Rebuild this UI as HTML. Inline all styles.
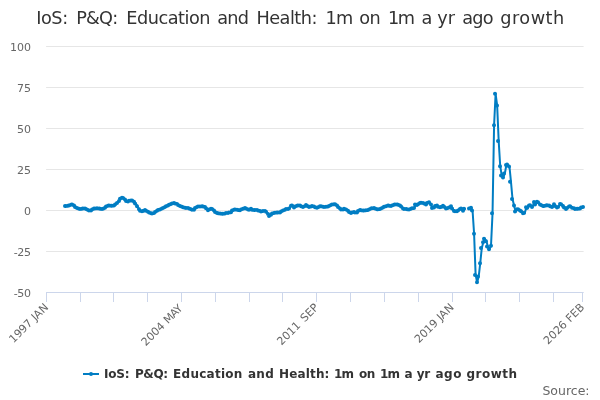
<!DOCTYPE html>
<html><head><meta charset="utf-8"><title>IoS: P&amp;Q: Education and Health: 1m on 1m a yr ago growth</title>
<style>
html,body{margin:0;padding:0;background:#fff;}
body{width:600px;height:400px;overflow:hidden;}
svg{display:block;font-family:"DejaVu Sans","Liberation Sans",sans-serif;}
</style></head><body>
<svg width="600" height="400" viewBox="0 0 600 400">
<rect width="600" height="400" fill="#fff"/>
<path d="M46.1 46.5H583.6M46.1 87.5H583.6M46.1 128.5H583.6M46.1 169.5H583.6M46.1 210.5H583.6M46.1 251.5H583.6" stroke="#e6e6e6" stroke-width="1" fill="none"/>
<path d="M46 292.5H583.7" stroke="#ccd6eb" stroke-width="1" fill="none"/>
<path d="M46.5 292V302M80.5 292V302M113.5 292V302M147.5 292V302M181.5 292V302M215.5 292V302M249.5 292V302M282.5 292V302M316.5 292V302M350.5 292V302M384.5 292V302M418.5 292V302M452.5 292V302M485.5 292V302M519.5 292V302M553.5 292V302M582.5 292V302" stroke="#ccd6eb" stroke-width="1" fill="none"/>
<g fill="none" stroke="#007dc3" stroke-width="2" stroke-linejoin="round" stroke-linecap="round">
<path d="M65.23 205.9 L66.76 206.1 L68.30 205.7 L69.84 205.4 L71.37 204.8 L72.91 204.6 L74.45 205.6 L75.98 207.0 L77.52 208.0 L79.06 208.7 L80.60 209.0 L82.13 208.8 L83.67 208.6 L85.21 208.6 L86.74 209.0 L88.28 210.0 L89.82 210.6 L91.36 210.4 L92.89 209.4 L94.43 208.6 L95.97 208.4 L97.50 208.2 L99.04 208.5 L100.58 208.8 L102.12 209.0 L103.65 208.8 L105.19 207.8 L106.73 206.4 L108.26 205.8 L109.80 205.5 L111.34 205.7 L112.88 205.8 L114.41 205.4 L115.95 204.4 L117.49 202.9 L119.02 201.0 L120.56 198.8 L122.10 197.7 L123.63 198.1 L125.17 199.5 L126.71 201.1 L128.25 201.5 L129.78 200.8 L131.32 200.5 L132.86 200.5 L134.39 201.7 L135.93 203.6 L137.47 206.2 L139.01 209.2 L140.54 210.7 L142.08 211.3 L143.62 211.0 L145.15 210.1 L146.69 210.8 L148.23 211.7 L149.77 212.6 L151.30 213.2 L152.84 213.5 L154.38 212.9 L155.91 212.0 L157.45 210.8 L158.99 210.0 L160.53 209.4 L162.06 208.6 L163.60 207.9 L165.14 207.1 L166.67 206.3 L168.21 205.6 L169.75 204.8 L171.29 204.0 L172.82 203.4 L174.36 203.1 L175.90 203.4 L177.43 204.1 L178.97 205.1 L180.51 206.1 L182.04 206.7 L183.58 207.3 L185.12 207.7 L186.66 208.0 L188.19 208.1 L189.73 208.4 L191.27 209.2 L192.80 209.7 L194.34 209.7 L195.88 208.0 L197.42 207.1 L198.95 206.5 L200.49 206.4 L202.03 206.3 L203.56 206.5 L205.10 207.0 L206.64 208.3 L208.18 210.3 L209.71 209.5 L211.25 208.8 L212.79 208.9 L214.32 210.5 L215.86 212.0 L217.40 213.0 L218.94 213.2 L220.47 213.5 L222.01 213.8 L223.55 213.8 L225.08 213.4 L226.62 213.1 L228.16 213.0 L229.69 212.6 L231.23 212.2 L232.77 210.6 L234.31 209.8 L235.84 209.6 L237.38 209.8 L238.92 210.1 L240.45 210.2 L241.99 209.4 L243.53 208.7 L245.07 208.1 L246.60 208.5 L248.14 209.4 L249.68 209.7 L251.21 208.7 L252.75 209.7 L254.29 209.9 L255.83 209.9 L257.36 210.0 L258.90 210.4 L260.44 211.0 L261.97 211.4 L263.51 211.1 L265.05 210.9 L266.59 211.8 L268.12 214.0 L269.66 216.0 L271.20 214.7 L272.73 213.4 L274.27 213.1 L275.81 212.8 L277.35 212.5 L278.88 212.5 L280.42 212.5 L281.96 211.4 L283.49 210.4 L285.03 209.7 L286.57 209.0 L288.10 209.0 L289.64 208.4 L291.18 205.8 L292.72 205.5 L294.25 207.4 L295.79 206.4 L297.33 205.8 L298.86 205.5 L300.40 205.5 L301.94 206.3 L303.48 206.9 L305.01 205.9 L306.55 205.1 L308.09 206.2 L309.62 206.9 L311.16 206.4 L312.70 206.1 L314.24 206.6 L315.77 207.2 L317.31 207.8 L318.85 207.3 L320.38 206.3 L321.92 206.3 L323.46 206.7 L325.00 206.9 L326.53 206.7 L328.07 206.5 L329.61 205.9 L331.14 205.1 L332.68 204.4 L334.22 204.2 L335.75 204.3 L337.29 205.6 L338.83 207.0 L340.37 208.5 L341.90 209.5 L343.44 209.6 L344.98 208.7 L346.51 209.4 L348.05 210.7 L349.59 211.9 L351.13 212.9 L352.66 212.4 L354.20 212.1 L355.74 212.6 L357.27 212.6 L358.81 211.0 L360.35 210.1 L361.89 210.3 L363.42 210.5 L364.96 210.5 L366.50 210.3 L368.03 210.1 L369.57 209.4 L371.11 208.6 L372.65 208.3 L374.18 208.1 L375.72 208.4 L377.26 209.2 L378.79 209.3 L380.33 209.1 L381.87 208.4 L383.40 207.5 L384.94 206.8 L386.48 206.2 L388.02 205.6 L389.55 205.7 L391.09 205.9 L392.63 205.6 L394.16 204.8 L395.70 204.5 L397.24 204.5 L398.78 204.7 L400.31 205.5 L401.85 206.6 L403.39 208.4 L404.92 209.0 L406.46 209.0 L408.00 209.3 L409.54 209.4 L411.07 208.8 L412.61 208.3 L414.15 208.0 L415.68 204.6 L417.22 204.9 L418.76 204.2 L420.30 203.0 L421.83 202.7 L423.37 202.9 L424.91 203.6 L426.44 204.4 L427.98 203.1 L429.52 202.3 L431.05 204.6 L432.59 207.9 L434.13 207.6 L435.67 205.9 L437.20 205.6 L438.74 206.7 L440.28 207.3 L441.81 206.9 L443.35 205.8 L444.89 206.7 L446.43 208.5 L447.96 208.3 L449.50 207.4 L451.04 206.2 L452.57 208.4 L454.11 211.0 L455.65 211.3 L457.19 211.3 L458.72 210.4 L460.26 209.1 L461.80 208.6 L463.33 210.7 L464.87 208.8"/>
<path d="M469.48 208.4 L471.02 207.8 L472.56 210.5 L474.09 233.8 L475.63 275.1 L477.17 282.3 L478.71 276.5 L480.24 263.2 L481.78 248.0 L483.32 242.3 L484.85 238.7 L486.39 241.2 L487.93 246.5 L489.46 249.2 L491.00 245.8 L492.54 213.3 L494.08 125.2 L495.61 93.8 L497.15 105.5 L498.69 141.0 L500.22 166.2 L501.76 175.5 L503.30 177.5 L504.84 173.5 L506.37 165.0 L507.91 164.5 L509.45 166.5 L510.98 181.8 L512.52 199.0 L514.06 205.5 L515.60 211.6 L517.13 209.3 L518.67 209.3 L520.21 210.5 L521.74 211.2 L523.28 213.3 L524.82 213.0 L526.36 207.3 L527.89 208.0 L529.43 205.5 L530.97 205.3 L532.50 207.0 L534.04 202.0 L535.58 204.5 L537.11 201.8 L538.65 202.2 L540.19 204.6 L541.73 205.0 L543.26 205.9 L544.80 206.0 L546.34 205.5 L547.87 205.2 L549.41 205.4 L550.95 206.3 L552.49 207.1 L554.02 204.3 L555.56 206.0 L557.10 207.4 L558.63 207.0 L560.17 204.1 L561.71 204.2 L563.25 206.0 L564.78 207.4 L566.32 208.9 L567.86 208.0 L569.39 206.6 L570.93 206.3 L572.47 207.7 L574.01 208.2 L575.54 208.9 L577.08 208.8 L578.62 208.7 L580.15 208.4 L581.69 207.6 L583.23 206.9"/>
</g>
<path d="M63 205.9a2 2 0 1 0 4 0a2 2 0 1 0-4 0zM64 206.1a2 2 0 1 0 4 0a2 2 0 1 0-4 0zM66 205.7a2 2 0 1 0 4 0a2 2 0 1 0-4 0zM67 205.4a2 2 0 1 0 4 0a2 2 0 1 0-4 0zM69 204.8a2 2 0 1 0 4 0a2 2 0 1 0-4 0zM70 204.6a2 2 0 1 0 4 0a2 2 0 1 0-4 0zM72 205.6a2 2 0 1 0 4 0a2 2 0 1 0-4 0zM73 207.0a2 2 0 1 0 4 0a2 2 0 1 0-4 0zM75 208.0a2 2 0 1 0 4 0a2 2 0 1 0-4 0zM77 208.7a2 2 0 1 0 4 0a2 2 0 1 0-4 0zM78 209.0a2 2 0 1 0 4 0a2 2 0 1 0-4 0zM80 208.8a2 2 0 1 0 4 0a2 2 0 1 0-4 0zM81 208.6a2 2 0 1 0 4 0a2 2 0 1 0-4 0zM83 208.6a2 2 0 1 0 4 0a2 2 0 1 0-4 0zM84 209.0a2 2 0 1 0 4 0a2 2 0 1 0-4 0zM86 210.0a2 2 0 1 0 4 0a2 2 0 1 0-4 0zM87 210.6a2 2 0 1 0 4 0a2 2 0 1 0-4 0zM89 210.4a2 2 0 1 0 4 0a2 2 0 1 0-4 0zM90 209.4a2 2 0 1 0 4 0a2 2 0 1 0-4 0zM92 208.6a2 2 0 1 0 4 0a2 2 0 1 0-4 0zM93 208.4a2 2 0 1 0 4 0a2 2 0 1 0-4 0zM95 208.2a2 2 0 1 0 4 0a2 2 0 1 0-4 0zM97 208.5a2 2 0 1 0 4 0a2 2 0 1 0-4 0zM98 208.8a2 2 0 1 0 4 0a2 2 0 1 0-4 0zM100 209.0a2 2 0 1 0 4 0a2 2 0 1 0-4 0zM101 208.8a2 2 0 1 0 4 0a2 2 0 1 0-4 0zM103 207.8a2 2 0 1 0 4 0a2 2 0 1 0-4 0zM104 206.4a2 2 0 1 0 4 0a2 2 0 1 0-4 0zM106 205.8a2 2 0 1 0 4 0a2 2 0 1 0-4 0zM107 205.5a2 2 0 1 0 4 0a2 2 0 1 0-4 0zM109 205.7a2 2 0 1 0 4 0a2 2 0 1 0-4 0zM110 205.8a2 2 0 1 0 4 0a2 2 0 1 0-4 0zM112 205.4a2 2 0 1 0 4 0a2 2 0 1 0-4 0zM113 204.4a2 2 0 1 0 4 0a2 2 0 1 0-4 0zM115 202.9a2 2 0 1 0 4 0a2 2 0 1 0-4 0zM117 201.0a2 2 0 1 0 4 0a2 2 0 1 0-4 0zM118 198.8a2 2 0 1 0 4 0a2 2 0 1 0-4 0zM120 197.7a2 2 0 1 0 4 0a2 2 0 1 0-4 0zM121 198.1a2 2 0 1 0 4 0a2 2 0 1 0-4 0zM123 199.5a2 2 0 1 0 4 0a2 2 0 1 0-4 0zM124 201.1a2 2 0 1 0 4 0a2 2 0 1 0-4 0zM126 201.5a2 2 0 1 0 4 0a2 2 0 1 0-4 0zM127 200.8a2 2 0 1 0 4 0a2 2 0 1 0-4 0zM129 200.5a2 2 0 1 0 4 0a2 2 0 1 0-4 0zM130 200.5a2 2 0 1 0 4 0a2 2 0 1 0-4 0zM132 201.7a2 2 0 1 0 4 0a2 2 0 1 0-4 0zM133 203.6a2 2 0 1 0 4 0a2 2 0 1 0-4 0zM135 206.2a2 2 0 1 0 4 0a2 2 0 1 0-4 0zM137 209.2a2 2 0 1 0 4 0a2 2 0 1 0-4 0zM138 210.7a2 2 0 1 0 4 0a2 2 0 1 0-4 0zM140 211.3a2 2 0 1 0 4 0a2 2 0 1 0-4 0zM141 211.0a2 2 0 1 0 4 0a2 2 0 1 0-4 0zM143 210.1a2 2 0 1 0 4 0a2 2 0 1 0-4 0zM144 210.8a2 2 0 1 0 4 0a2 2 0 1 0-4 0zM146 211.7a2 2 0 1 0 4 0a2 2 0 1 0-4 0zM147 212.6a2 2 0 1 0 4 0a2 2 0 1 0-4 0zM149 213.2a2 2 0 1 0 4 0a2 2 0 1 0-4 0zM150 213.5a2 2 0 1 0 4 0a2 2 0 1 0-4 0zM152 212.9a2 2 0 1 0 4 0a2 2 0 1 0-4 0zM153 212.0a2 2 0 1 0 4 0a2 2 0 1 0-4 0zM155 210.8a2 2 0 1 0 4 0a2 2 0 1 0-4 0zM156 210.0a2 2 0 1 0 4 0a2 2 0 1 0-4 0zM158 209.4a2 2 0 1 0 4 0a2 2 0 1 0-4 0zM160 208.6a2 2 0 1 0 4 0a2 2 0 1 0-4 0zM161 207.9a2 2 0 1 0 4 0a2 2 0 1 0-4 0zM163 207.1a2 2 0 1 0 4 0a2 2 0 1 0-4 0zM164 206.3a2 2 0 1 0 4 0a2 2 0 1 0-4 0zM166 205.6a2 2 0 1 0 4 0a2 2 0 1 0-4 0zM167 204.8a2 2 0 1 0 4 0a2 2 0 1 0-4 0zM169 204.0a2 2 0 1 0 4 0a2 2 0 1 0-4 0zM170 203.4a2 2 0 1 0 4 0a2 2 0 1 0-4 0zM172 203.1a2 2 0 1 0 4 0a2 2 0 1 0-4 0zM173 203.4a2 2 0 1 0 4 0a2 2 0 1 0-4 0zM175 204.1a2 2 0 1 0 4 0a2 2 0 1 0-4 0zM176 205.1a2 2 0 1 0 4 0a2 2 0 1 0-4 0zM178 206.1a2 2 0 1 0 4 0a2 2 0 1 0-4 0zM180 206.7a2 2 0 1 0 4 0a2 2 0 1 0-4 0zM181 207.3a2 2 0 1 0 4 0a2 2 0 1 0-4 0zM183 207.7a2 2 0 1 0 4 0a2 2 0 1 0-4 0zM184 208.0a2 2 0 1 0 4 0a2 2 0 1 0-4 0zM186 208.1a2 2 0 1 0 4 0a2 2 0 1 0-4 0zM187 208.4a2 2 0 1 0 4 0a2 2 0 1 0-4 0zM189 209.2a2 2 0 1 0 4 0a2 2 0 1 0-4 0zM190 209.7a2 2 0 1 0 4 0a2 2 0 1 0-4 0zM192 209.7a2 2 0 1 0 4 0a2 2 0 1 0-4 0zM193 208.0a2 2 0 1 0 4 0a2 2 0 1 0-4 0zM195 207.1a2 2 0 1 0 4 0a2 2 0 1 0-4 0zM196 206.5a2 2 0 1 0 4 0a2 2 0 1 0-4 0zM198 206.4a2 2 0 1 0 4 0a2 2 0 1 0-4 0zM200 206.3a2 2 0 1 0 4 0a2 2 0 1 0-4 0zM201 206.5a2 2 0 1 0 4 0a2 2 0 1 0-4 0zM203 207.0a2 2 0 1 0 4 0a2 2 0 1 0-4 0zM204 208.3a2 2 0 1 0 4 0a2 2 0 1 0-4 0zM206 210.3a2 2 0 1 0 4 0a2 2 0 1 0-4 0zM207 209.5a2 2 0 1 0 4 0a2 2 0 1 0-4 0zM209 208.8a2 2 0 1 0 4 0a2 2 0 1 0-4 0zM210 208.9a2 2 0 1 0 4 0a2 2 0 1 0-4 0zM212 210.5a2 2 0 1 0 4 0a2 2 0 1 0-4 0zM213 212.0a2 2 0 1 0 4 0a2 2 0 1 0-4 0zM215 213.0a2 2 0 1 0 4 0a2 2 0 1 0-4 0zM216 213.2a2 2 0 1 0 4 0a2 2 0 1 0-4 0zM218 213.5a2 2 0 1 0 4 0a2 2 0 1 0-4 0zM220 213.8a2 2 0 1 0 4 0a2 2 0 1 0-4 0zM221 213.8a2 2 0 1 0 4 0a2 2 0 1 0-4 0zM223 213.4a2 2 0 1 0 4 0a2 2 0 1 0-4 0zM224 213.1a2 2 0 1 0 4 0a2 2 0 1 0-4 0zM226 213.0a2 2 0 1 0 4 0a2 2 0 1 0-4 0zM227 212.6a2 2 0 1 0 4 0a2 2 0 1 0-4 0zM229 212.2a2 2 0 1 0 4 0a2 2 0 1 0-4 0zM230 210.6a2 2 0 1 0 4 0a2 2 0 1 0-4 0zM232 209.8a2 2 0 1 0 4 0a2 2 0 1 0-4 0zM233 209.6a2 2 0 1 0 4 0a2 2 0 1 0-4 0zM235 209.8a2 2 0 1 0 4 0a2 2 0 1 0-4 0zM236 210.1a2 2 0 1 0 4 0a2 2 0 1 0-4 0zM238 210.2a2 2 0 1 0 4 0a2 2 0 1 0-4 0zM239 209.4a2 2 0 1 0 4 0a2 2 0 1 0-4 0zM241 208.7a2 2 0 1 0 4 0a2 2 0 1 0-4 0zM243 208.1a2 2 0 1 0 4 0a2 2 0 1 0-4 0zM244 208.5a2 2 0 1 0 4 0a2 2 0 1 0-4 0zM246 209.4a2 2 0 1 0 4 0a2 2 0 1 0-4 0zM247 209.7a2 2 0 1 0 4 0a2 2 0 1 0-4 0zM249 208.7a2 2 0 1 0 4 0a2 2 0 1 0-4 0zM250 209.7a2 2 0 1 0 4 0a2 2 0 1 0-4 0zM252 209.9a2 2 0 1 0 4 0a2 2 0 1 0-4 0zM253 209.9a2 2 0 1 0 4 0a2 2 0 1 0-4 0zM255 210.0a2 2 0 1 0 4 0a2 2 0 1 0-4 0zM256 210.4a2 2 0 1 0 4 0a2 2 0 1 0-4 0zM258 211.0a2 2 0 1 0 4 0a2 2 0 1 0-4 0zM259 211.4a2 2 0 1 0 4 0a2 2 0 1 0-4 0zM261 211.1a2 2 0 1 0 4 0a2 2 0 1 0-4 0zM263 210.9a2 2 0 1 0 4 0a2 2 0 1 0-4 0zM264 211.8a2 2 0 1 0 4 0a2 2 0 1 0-4 0zM266 214.0a2 2 0 1 0 4 0a2 2 0 1 0-4 0zM267 216.0a2 2 0 1 0 4 0a2 2 0 1 0-4 0zM269 214.7a2 2 0 1 0 4 0a2 2 0 1 0-4 0zM270 213.4a2 2 0 1 0 4 0a2 2 0 1 0-4 0zM272 213.1a2 2 0 1 0 4 0a2 2 0 1 0-4 0zM273 212.8a2 2 0 1 0 4 0a2 2 0 1 0-4 0zM275 212.5a2 2 0 1 0 4 0a2 2 0 1 0-4 0zM276 212.5a2 2 0 1 0 4 0a2 2 0 1 0-4 0zM278 212.5a2 2 0 1 0 4 0a2 2 0 1 0-4 0zM279 211.4a2 2 0 1 0 4 0a2 2 0 1 0-4 0zM281 210.4a2 2 0 1 0 4 0a2 2 0 1 0-4 0zM283 209.7a2 2 0 1 0 4 0a2 2 0 1 0-4 0zM284 209.0a2 2 0 1 0 4 0a2 2 0 1 0-4 0zM286 209.0a2 2 0 1 0 4 0a2 2 0 1 0-4 0zM287 208.4a2 2 0 1 0 4 0a2 2 0 1 0-4 0zM289 205.8a2 2 0 1 0 4 0a2 2 0 1 0-4 0zM290 205.5a2 2 0 1 0 4 0a2 2 0 1 0-4 0zM292 207.4a2 2 0 1 0 4 0a2 2 0 1 0-4 0zM293 206.4a2 2 0 1 0 4 0a2 2 0 1 0-4 0zM295 205.8a2 2 0 1 0 4 0a2 2 0 1 0-4 0zM296 205.5a2 2 0 1 0 4 0a2 2 0 1 0-4 0zM298 205.5a2 2 0 1 0 4 0a2 2 0 1 0-4 0zM299 206.3a2 2 0 1 0 4 0a2 2 0 1 0-4 0zM301 206.9a2 2 0 1 0 4 0a2 2 0 1 0-4 0zM303 205.9a2 2 0 1 0 4 0a2 2 0 1 0-4 0zM304 205.1a2 2 0 1 0 4 0a2 2 0 1 0-4 0zM306 206.2a2 2 0 1 0 4 0a2 2 0 1 0-4 0zM307 206.9a2 2 0 1 0 4 0a2 2 0 1 0-4 0zM309 206.4a2 2 0 1 0 4 0a2 2 0 1 0-4 0zM310 206.1a2 2 0 1 0 4 0a2 2 0 1 0-4 0zM312 206.6a2 2 0 1 0 4 0a2 2 0 1 0-4 0zM313 207.2a2 2 0 1 0 4 0a2 2 0 1 0-4 0zM315 207.8a2 2 0 1 0 4 0a2 2 0 1 0-4 0zM316 207.3a2 2 0 1 0 4 0a2 2 0 1 0-4 0zM318 206.3a2 2 0 1 0 4 0a2 2 0 1 0-4 0zM319 206.3a2 2 0 1 0 4 0a2 2 0 1 0-4 0zM321 206.7a2 2 0 1 0 4 0a2 2 0 1 0-4 0zM322 206.9a2 2 0 1 0 4 0a2 2 0 1 0-4 0zM324 206.7a2 2 0 1 0 4 0a2 2 0 1 0-4 0zM326 206.5a2 2 0 1 0 4 0a2 2 0 1 0-4 0zM327 205.9a2 2 0 1 0 4 0a2 2 0 1 0-4 0zM329 205.1a2 2 0 1 0 4 0a2 2 0 1 0-4 0zM330 204.4a2 2 0 1 0 4 0a2 2 0 1 0-4 0zM332 204.2a2 2 0 1 0 4 0a2 2 0 1 0-4 0zM333 204.3a2 2 0 1 0 4 0a2 2 0 1 0-4 0zM335 205.6a2 2 0 1 0 4 0a2 2 0 1 0-4 0zM336 207.0a2 2 0 1 0 4 0a2 2 0 1 0-4 0zM338 208.5a2 2 0 1 0 4 0a2 2 0 1 0-4 0zM339 209.5a2 2 0 1 0 4 0a2 2 0 1 0-4 0zM341 209.6a2 2 0 1 0 4 0a2 2 0 1 0-4 0zM342 208.7a2 2 0 1 0 4 0a2 2 0 1 0-4 0zM344 209.4a2 2 0 1 0 4 0a2 2 0 1 0-4 0zM346 210.7a2 2 0 1 0 4 0a2 2 0 1 0-4 0zM347 211.9a2 2 0 1 0 4 0a2 2 0 1 0-4 0zM349 212.9a2 2 0 1 0 4 0a2 2 0 1 0-4 0zM350 212.4a2 2 0 1 0 4 0a2 2 0 1 0-4 0zM352 212.1a2 2 0 1 0 4 0a2 2 0 1 0-4 0zM353 212.6a2 2 0 1 0 4 0a2 2 0 1 0-4 0zM355 212.6a2 2 0 1 0 4 0a2 2 0 1 0-4 0zM356 211.0a2 2 0 1 0 4 0a2 2 0 1 0-4 0zM358 210.1a2 2 0 1 0 4 0a2 2 0 1 0-4 0zM359 210.3a2 2 0 1 0 4 0a2 2 0 1 0-4 0zM361 210.5a2 2 0 1 0 4 0a2 2 0 1 0-4 0zM362 210.5a2 2 0 1 0 4 0a2 2 0 1 0-4 0zM364 210.3a2 2 0 1 0 4 0a2 2 0 1 0-4 0zM366 210.1a2 2 0 1 0 4 0a2 2 0 1 0-4 0zM367 209.4a2 2 0 1 0 4 0a2 2 0 1 0-4 0zM369 208.6a2 2 0 1 0 4 0a2 2 0 1 0-4 0zM370 208.3a2 2 0 1 0 4 0a2 2 0 1 0-4 0zM372 208.1a2 2 0 1 0 4 0a2 2 0 1 0-4 0zM373 208.4a2 2 0 1 0 4 0a2 2 0 1 0-4 0zM375 209.2a2 2 0 1 0 4 0a2 2 0 1 0-4 0zM376 209.3a2 2 0 1 0 4 0a2 2 0 1 0-4 0zM378 209.1a2 2 0 1 0 4 0a2 2 0 1 0-4 0zM379 208.4a2 2 0 1 0 4 0a2 2 0 1 0-4 0zM381 207.5a2 2 0 1 0 4 0a2 2 0 1 0-4 0zM382 206.8a2 2 0 1 0 4 0a2 2 0 1 0-4 0zM384 206.2a2 2 0 1 0 4 0a2 2 0 1 0-4 0zM386 205.6a2 2 0 1 0 4 0a2 2 0 1 0-4 0zM387 205.7a2 2 0 1 0 4 0a2 2 0 1 0-4 0zM389 205.9a2 2 0 1 0 4 0a2 2 0 1 0-4 0zM390 205.6a2 2 0 1 0 4 0a2 2 0 1 0-4 0zM392 204.8a2 2 0 1 0 4 0a2 2 0 1 0-4 0zM393 204.5a2 2 0 1 0 4 0a2 2 0 1 0-4 0zM395 204.5a2 2 0 1 0 4 0a2 2 0 1 0-4 0zM396 204.7a2 2 0 1 0 4 0a2 2 0 1 0-4 0zM398 205.5a2 2 0 1 0 4 0a2 2 0 1 0-4 0zM399 206.6a2 2 0 1 0 4 0a2 2 0 1 0-4 0zM401 208.4a2 2 0 1 0 4 0a2 2 0 1 0-4 0zM402 209.0a2 2 0 1 0 4 0a2 2 0 1 0-4 0zM404 209.0a2 2 0 1 0 4 0a2 2 0 1 0-4 0zM405 209.3a2 2 0 1 0 4 0a2 2 0 1 0-4 0zM407 209.4a2 2 0 1 0 4 0a2 2 0 1 0-4 0zM409 208.8a2 2 0 1 0 4 0a2 2 0 1 0-4 0zM410 208.3a2 2 0 1 0 4 0a2 2 0 1 0-4 0zM412 208.0a2 2 0 1 0 4 0a2 2 0 1 0-4 0zM413 204.6a2 2 0 1 0 4 0a2 2 0 1 0-4 0zM415 204.9a2 2 0 1 0 4 0a2 2 0 1 0-4 0zM416 204.2a2 2 0 1 0 4 0a2 2 0 1 0-4 0zM418 203.0a2 2 0 1 0 4 0a2 2 0 1 0-4 0zM419 202.7a2 2 0 1 0 4 0a2 2 0 1 0-4 0zM421 202.9a2 2 0 1 0 4 0a2 2 0 1 0-4 0zM422 203.6a2 2 0 1 0 4 0a2 2 0 1 0-4 0zM424 204.4a2 2 0 1 0 4 0a2 2 0 1 0-4 0zM425 203.1a2 2 0 1 0 4 0a2 2 0 1 0-4 0zM427 202.3a2 2 0 1 0 4 0a2 2 0 1 0-4 0zM429 204.6a2 2 0 1 0 4 0a2 2 0 1 0-4 0zM430 207.9a2 2 0 1 0 4 0a2 2 0 1 0-4 0zM432 207.6a2 2 0 1 0 4 0a2 2 0 1 0-4 0zM433 205.9a2 2 0 1 0 4 0a2 2 0 1 0-4 0zM435 205.6a2 2 0 1 0 4 0a2 2 0 1 0-4 0zM436 206.7a2 2 0 1 0 4 0a2 2 0 1 0-4 0zM438 207.3a2 2 0 1 0 4 0a2 2 0 1 0-4 0zM439 206.9a2 2 0 1 0 4 0a2 2 0 1 0-4 0zM441 205.8a2 2 0 1 0 4 0a2 2 0 1 0-4 0zM442 206.7a2 2 0 1 0 4 0a2 2 0 1 0-4 0zM444 208.5a2 2 0 1 0 4 0a2 2 0 1 0-4 0zM445 208.3a2 2 0 1 0 4 0a2 2 0 1 0-4 0zM447 207.4a2 2 0 1 0 4 0a2 2 0 1 0-4 0zM449 206.2a2 2 0 1 0 4 0a2 2 0 1 0-4 0zM450 208.4a2 2 0 1 0 4 0a2 2 0 1 0-4 0zM452 211.0a2 2 0 1 0 4 0a2 2 0 1 0-4 0zM453 211.3a2 2 0 1 0 4 0a2 2 0 1 0-4 0zM455 211.3a2 2 0 1 0 4 0a2 2 0 1 0-4 0zM456 210.4a2 2 0 1 0 4 0a2 2 0 1 0-4 0zM458 209.1a2 2 0 1 0 4 0a2 2 0 1 0-4 0zM459 208.6a2 2 0 1 0 4 0a2 2 0 1 0-4 0zM461 210.7a2 2 0 1 0 4 0a2 2 0 1 0-4 0zM462 208.8a2 2 0 1 0 4 0a2 2 0 1 0-4 0zM467 208.4a2 2 0 1 0 4 0a2 2 0 1 0-4 0zM469 207.8a2 2 0 1 0 4 0a2 2 0 1 0-4 0zM470 210.5a2 2 0 1 0 4 0a2 2 0 1 0-4 0zM472 233.8a2 2 0 1 0 4 0a2 2 0 1 0-4 0zM473 275.1a2 2 0 1 0 4 0a2 2 0 1 0-4 0zM475 282.3a2 2 0 1 0 4 0a2 2 0 1 0-4 0zM476 276.5a2 2 0 1 0 4 0a2 2 0 1 0-4 0zM478 263.2a2 2 0 1 0 4 0a2 2 0 1 0-4 0zM479 248.0a2 2 0 1 0 4 0a2 2 0 1 0-4 0zM481 242.3a2 2 0 1 0 4 0a2 2 0 1 0-4 0zM482 238.7a2 2 0 1 0 4 0a2 2 0 1 0-4 0zM484 241.2a2 2 0 1 0 4 0a2 2 0 1 0-4 0zM485 246.5a2 2 0 1 0 4 0a2 2 0 1 0-4 0zM487 249.2a2 2 0 1 0 4 0a2 2 0 1 0-4 0zM489 245.8a2 2 0 1 0 4 0a2 2 0 1 0-4 0zM490 213.3a2 2 0 1 0 4 0a2 2 0 1 0-4 0zM492 125.2a2 2 0 1 0 4 0a2 2 0 1 0-4 0zM493 93.8a2 2 0 1 0 4 0a2 2 0 1 0-4 0zM495 105.5a2 2 0 1 0 4 0a2 2 0 1 0-4 0zM496 141.0a2 2 0 1 0 4 0a2 2 0 1 0-4 0zM498 166.2a2 2 0 1 0 4 0a2 2 0 1 0-4 0zM499 175.5a2 2 0 1 0 4 0a2 2 0 1 0-4 0zM501 177.5a2 2 0 1 0 4 0a2 2 0 1 0-4 0zM502 173.5a2 2 0 1 0 4 0a2 2 0 1 0-4 0zM504 165.0a2 2 0 1 0 4 0a2 2 0 1 0-4 0zM505 164.5a2 2 0 1 0 4 0a2 2 0 1 0-4 0zM507 166.5a2 2 0 1 0 4 0a2 2 0 1 0-4 0zM508 181.8a2 2 0 1 0 4 0a2 2 0 1 0-4 0zM510 199.0a2 2 0 1 0 4 0a2 2 0 1 0-4 0zM512 205.5a2 2 0 1 0 4 0a2 2 0 1 0-4 0zM513 211.6a2 2 0 1 0 4 0a2 2 0 1 0-4 0zM515 209.3a2 2 0 1 0 4 0a2 2 0 1 0-4 0zM516 209.3a2 2 0 1 0 4 0a2 2 0 1 0-4 0zM518 210.5a2 2 0 1 0 4 0a2 2 0 1 0-4 0zM519 211.2a2 2 0 1 0 4 0a2 2 0 1 0-4 0zM521 213.3a2 2 0 1 0 4 0a2 2 0 1 0-4 0zM522 213.0a2 2 0 1 0 4 0a2 2 0 1 0-4 0zM524 207.3a2 2 0 1 0 4 0a2 2 0 1 0-4 0zM525 208.0a2 2 0 1 0 4 0a2 2 0 1 0-4 0zM527 205.5a2 2 0 1 0 4 0a2 2 0 1 0-4 0zM528 205.3a2 2 0 1 0 4 0a2 2 0 1 0-4 0zM530 207.0a2 2 0 1 0 4 0a2 2 0 1 0-4 0zM532 202.0a2 2 0 1 0 4 0a2 2 0 1 0-4 0zM533 204.5a2 2 0 1 0 4 0a2 2 0 1 0-4 0zM535 201.8a2 2 0 1 0 4 0a2 2 0 1 0-4 0zM536 202.2a2 2 0 1 0 4 0a2 2 0 1 0-4 0zM538 204.6a2 2 0 1 0 4 0a2 2 0 1 0-4 0zM539 205.0a2 2 0 1 0 4 0a2 2 0 1 0-4 0zM541 205.9a2 2 0 1 0 4 0a2 2 0 1 0-4 0zM542 206.0a2 2 0 1 0 4 0a2 2 0 1 0-4 0zM544 205.5a2 2 0 1 0 4 0a2 2 0 1 0-4 0zM545 205.2a2 2 0 1 0 4 0a2 2 0 1 0-4 0zM547 205.4a2 2 0 1 0 4 0a2 2 0 1 0-4 0zM548 206.3a2 2 0 1 0 4 0a2 2 0 1 0-4 0zM550 207.1a2 2 0 1 0 4 0a2 2 0 1 0-4 0zM552 204.3a2 2 0 1 0 4 0a2 2 0 1 0-4 0zM553 206.0a2 2 0 1 0 4 0a2 2 0 1 0-4 0zM555 207.4a2 2 0 1 0 4 0a2 2 0 1 0-4 0zM556 207.0a2 2 0 1 0 4 0a2 2 0 1 0-4 0zM558 204.1a2 2 0 1 0 4 0a2 2 0 1 0-4 0zM559 204.2a2 2 0 1 0 4 0a2 2 0 1 0-4 0zM561 206.0a2 2 0 1 0 4 0a2 2 0 1 0-4 0zM562 207.4a2 2 0 1 0 4 0a2 2 0 1 0-4 0zM564 208.9a2 2 0 1 0 4 0a2 2 0 1 0-4 0zM565 208.0a2 2 0 1 0 4 0a2 2 0 1 0-4 0zM567 206.6a2 2 0 1 0 4 0a2 2 0 1 0-4 0zM568 206.3a2 2 0 1 0 4 0a2 2 0 1 0-4 0zM570 207.7a2 2 0 1 0 4 0a2 2 0 1 0-4 0zM572 208.2a2 2 0 1 0 4 0a2 2 0 1 0-4 0zM573 208.9a2 2 0 1 0 4 0a2 2 0 1 0-4 0zM575 208.8a2 2 0 1 0 4 0a2 2 0 1 0-4 0zM576 208.7a2 2 0 1 0 4 0a2 2 0 1 0-4 0zM578 208.4a2 2 0 1 0 4 0a2 2 0 1 0-4 0zM579 207.6a2 2 0 1 0 4 0a2 2 0 1 0-4 0zM581 206.9a2 2 0 1 0 4 0a2 2 0 1 0-4 0z" fill="#007dc3"/>
<text y="24" font-size="17.7" fill="#333333"><tspan x="36.2" textLength="31.93" lengthAdjust="spacing">IoS:</tspan> <tspan x="76.2" textLength="42.04" lengthAdjust="spacing">P&amp;Q:</tspan> <tspan x="126.3" textLength="84.26" lengthAdjust="spacing">Education</tspan> <tspan x="217.2" textLength="31.78" lengthAdjust="spacing">and</tspan> <tspan x="256.4" textLength="61.1" lengthAdjust="spacing">Health:</tspan> <tspan x="325.4" textLength="27.78" lengthAdjust="spacing">1m</tspan> <tspan x="359.2" textLength="21.55" lengthAdjust="spacing">on</tspan> <tspan x="387.9" textLength="27.03" lengthAdjust="spacing">1m</tspan> <tspan x="421.4" textLength="10.64" lengthAdjust="spacing">a</tspan> <tspan x="437.2" textLength="17.75" lengthAdjust="spacing">yr</tspan> <tspan x="462.2" textLength="31.39" lengthAdjust="spacing">ago</tspan> <tspan x="500.3" textLength="63.9" lengthAdjust="spacing">growth</tspan></text>
<g font-size="11" fill="#666666"><text x="31" y="50.8" text-anchor="end">100</text><text x="31" y="91.8" text-anchor="end">75</text><text x="31" y="132.8" text-anchor="end">50</text><text x="31" y="173.8" text-anchor="end">25</text><text x="31" y="214.8" text-anchor="end">0</text><text x="31" y="255.8" text-anchor="end" textLength="17.3">-25</text><text x="31" y="296.8" text-anchor="end" textLength="17.3">-50</text></g>
<g font-size="11" fill="#666666"><text x="49.0" y="308.0" text-anchor="end" transform="rotate(-45 49.0 308.0)">1997 JAN</text><text x="182.7" y="309.5" text-anchor="end" transform="rotate(-45 182.7 309.5)">2004 <tspan letter-spacing='-0.7'>MAY</tspan></text><text x="319.3" y="308.0" text-anchor="end" word-spacing="1.4" transform="rotate(-45 319.3 308.0)">2011 SEP</text><text x="454.5" y="308.0" text-anchor="end" transform="rotate(-45 454.5 308.0)">2019 JAN</text><text x="585.0" y="308.0" text-anchor="end" transform="rotate(-45 585.0 308.0)">2026 FEB</text></g>
<path d="M83 374H99" stroke="#007dc3" stroke-width="2"/>
<circle cx="91" cy="374" r="2" fill="#007dc3"/>
<text y="378" font-size="12" font-weight="bold" fill="#333333"><tspan x="103.9" textLength="25.76" lengthAdjust="spacing">IoS:</tspan> <tspan x="134.9" textLength="33.27" lengthAdjust="spacing">P&amp;Q:</tspan> <tspan x="173.1" textLength="69.19" lengthAdjust="spacing">Education</tspan> <tspan x="247.9" textLength="25.83" lengthAdjust="spacing">and</tspan> <tspan x="279.1" textLength="50.28" lengthAdjust="spacing">Health:</tspan> <tspan x="334.0" textLength="19.96" lengthAdjust="spacing">1m</tspan> <tspan x="358.9" textLength="16.4" lengthAdjust="spacing">on</tspan> <tspan x="380.0" textLength="19.96" lengthAdjust="spacing">1m</tspan> <tspan x="404.6" textLength="8.51" lengthAdjust="spacing">a</tspan> <tspan x="416.7" textLength="13.35" lengthAdjust="spacing">yr</tspan> <tspan x="435.5" textLength="25.94" lengthAdjust="spacing">ago</tspan> <tspan x="466.5" textLength="50.52" lengthAdjust="spacing">growth</tspan></text>
<text x="589.6" y="395" text-anchor="end" font-size="12.5" fill="#666666">Source:</text>
</svg>
</body></html>
